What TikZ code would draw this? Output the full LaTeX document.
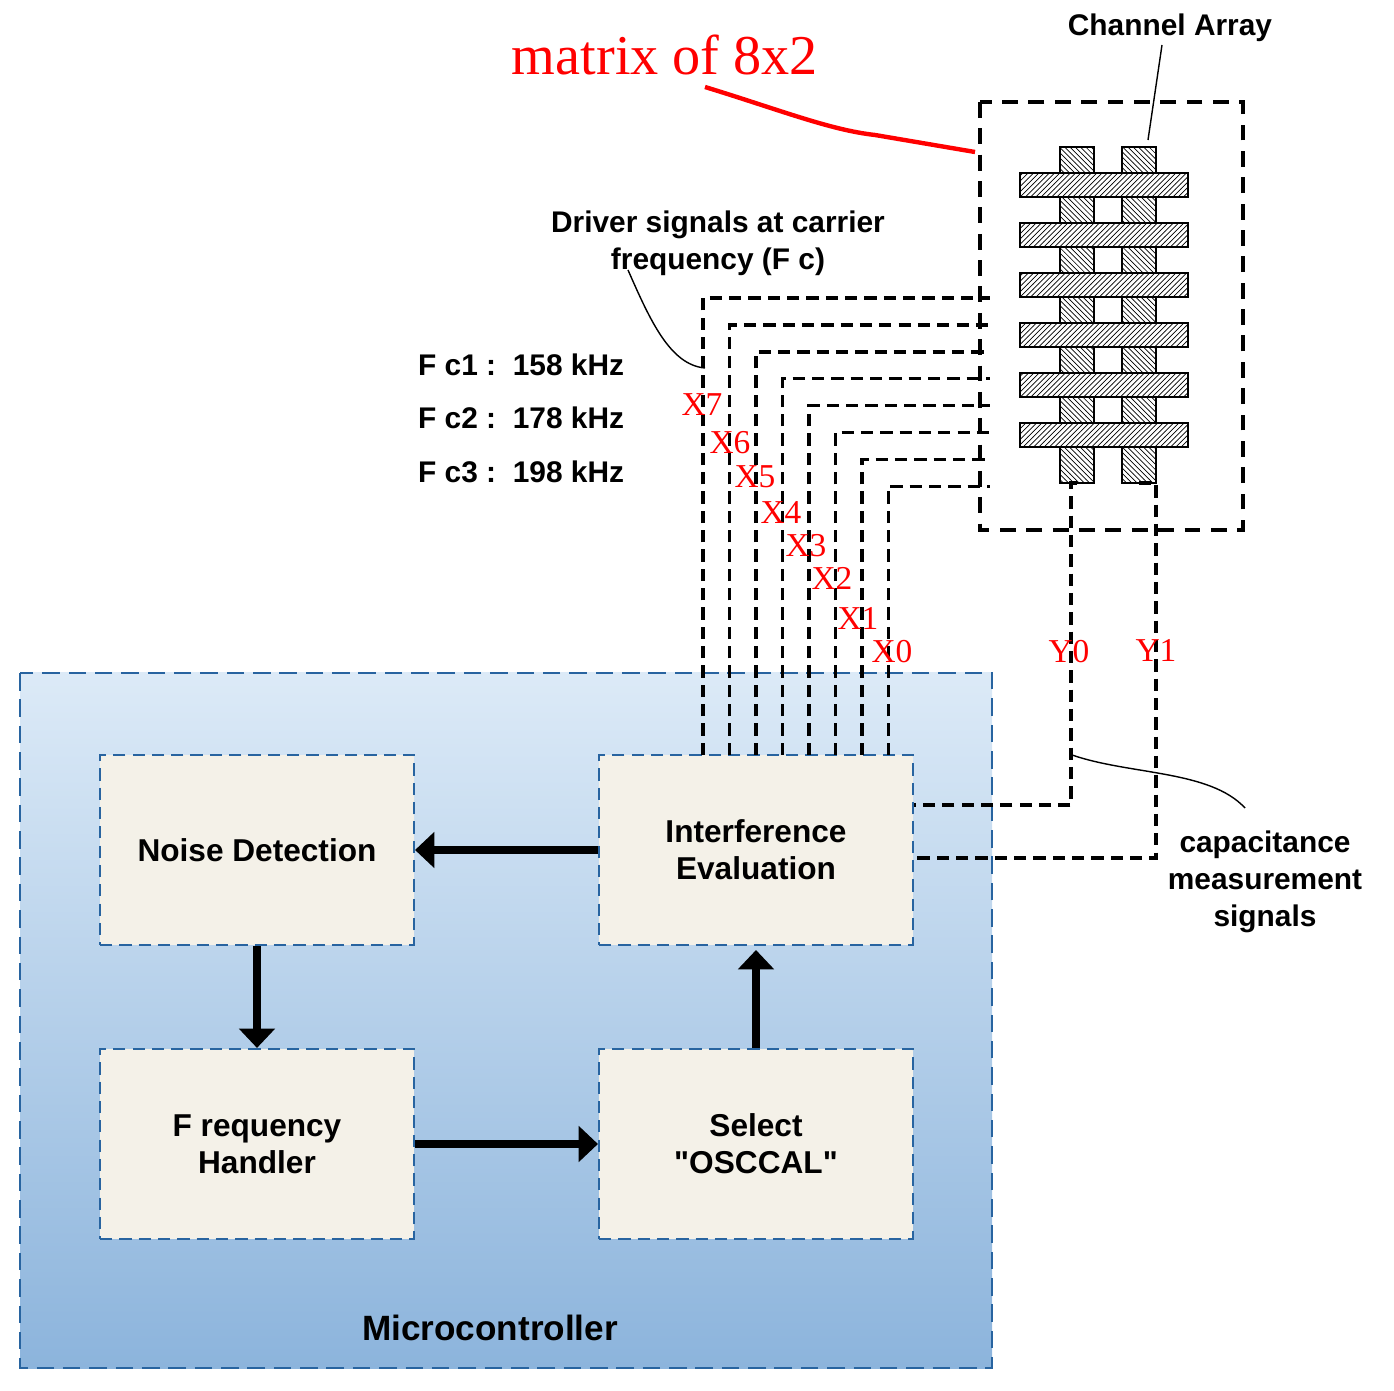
\documentclass[tikz,border=0pt]{standalone}
\usepackage{fontspec}
\setmainfont{Liberation Sans}[Ligatures=TeXOff]
\newfontfamily\serifx{Liberation Serif}
\usetikzlibrary{arrows.meta,patterns,positioning}

\definecolor{mcblue}{RGB}{40,100,160}
\definecolor{mctop}{RGB}{220,234,247}
\definecolor{mcbot}{RGB}{140,180,220}
\definecolor{boxfill}{RGB}{244,241,232}

\tikzset{
  block/.style={draw=mcblue, line width=1.2pt, dash pattern=on 7pt off 4pt, fill=boxfill,
    minimum width=6.28cm, minimum height=3.8cm, align=center,
    font=\bfseries\fontsize{18}{21}\selectfont},
  flow/.style={line width=4.5pt, -{Triangle[length=11pt,width=20pt]}},
  wire/.style={line width=2pt, dash pattern=on 7pt off 4pt},
  xlab/.style={text=red, font=\serifx\fontsize{19}{21}\selectfont, inner sep=0pt},
  note/.style={font=\bfseries\fontsize{17}{21}\selectfont, align=center}
}

\begin{document}
\begin{tikzpicture}[x=0.02cm,y=-0.02cm]
  \useasboundingbox (0,0) rectangle (1394,1391);

  % Microcontroller frame
  \shade[top color=mctop, bottom color=mcbot] (20,673) rectangle (992,1368);
  \draw[mcblue, line width=1.4pt, dash pattern=on 10pt off 5pt] (20,673) rectangle (992,1368);
  \node[font=\bfseries\fontsize{20}{24}\selectfont] (mcu) at (490,1328) {Microcontroller};

  % Blocks
  \node[block] (noise) at (257,850) {Noise Detection};
  \node[block] (inter) at (756,850) {Interference\\Evaluation};
  \node[block] (freq) at (257,1144) {F requency\\Handler};
  \node[block] (oscc) at (756,1144) {Select\\"OSCCAL"};

  \draw[flow] (inter.west) -- (noise.east);
  \draw[flow] (noise.south) -- (freq.north);
  \draw[flow] (freq.east) -- (oscc.west);
  \draw[flow] (oscc.north) -- (inter.north |- 0,950);

  % Channel array
  \draw[line width=2.2pt, dash pattern=on 9pt off 6pt] (980,102) rectangle (1243,530);
  \foreach \cx in {1060,1122}
    \draw[line width=1.3pt, pattern=north west lines] (\cx,147) rectangle ++(34,336);
  \foreach \k in {0,...,5}
    \draw[line width=1.3pt, fill=white, postaction={pattern=north east lines}]
      (1020,173+50*\k) rectangle ++(168,24);
  \node[note] (chan) at (1170,28) {Channel Array};
  \draw[thick] (1162,45) -- (1148,140);

  % Drive lines X7..X0
  \foreach \i/\n in {0/7,1/6,2/5,3/4,4/3,5/2,6/1,7/0} {
    \coordinate (xs\n) at (703+26.5*\i,755);
    \coordinate (xe\n) at (990,298+26.9*\i);
    \draw[wire] (xs\n) |- (xe\n);
  }
  \node[xlab] (lx7) at (702,405) {X7};
  \node[xlab] (lx6) at (730,443) {X6};
  \node[xlab] (lx5) at (755,477) {X5};
  \node[xlab] (lx4) at (781,513) {X4};
  \node[xlab] (lx3) at (806,546) {X3};
  \node[xlab] (lx2) at (832,578) {X2};
  \node[xlab] (lx1) at (858,618) {X1};
  \node[xlab] (lx0) at (892,652) {X0};

  % Sense lines Y0, Y1
  \coordinate (ys0) at (1077,483);
  \coordinate (ys1) at (1139,483);
  \draw[wire] (ys0) -- (1071,483) |- (inter.east |- 0,805);
  \draw[wire] (ys1) -- (1156,483) |- (inter.east |- 0,858);
  \node[xlab] (ly0) at (1069,652) {Y0};
  \node[xlab] (ly1) at (1156,650) {Y1};

  % Notes
  \node[note] (cap) at (1265,882) {capacitance\\measurement\\signals};
  \draw[thick] (1072,755) .. controls (1130,775) and (1210,770) .. (1245,808);
  \node[note] (drv) at (718,243) {Driver signals at carrier\\frequency (F c)};
  \draw[thick] (628,270) .. controls (650,320) and (670,365) .. (705,368);
  \node[note, align=left, anchor=west] (fc1) at (412,365) {F c1 :\ \ 158 kHz};
  \node[note, align=left, anchor=west] (fc2) at (412,418) {F c2 :\ \ 178 kHz};
  \node[note, align=left, anchor=west] (fc3) at (412,472) {F c3 :\ \ 198 kHz};

  \node[text=red, font=\serifx\fontsize{32}{36}\selectfont] (mtx) at (665,55) {matrix of 8x2};
  \draw[red, line width=2.5pt] (705,87) .. controls (780,110) and (830,130) .. (875,135)
    -- (975,152);
\end{tikzpicture}
\end{document}
